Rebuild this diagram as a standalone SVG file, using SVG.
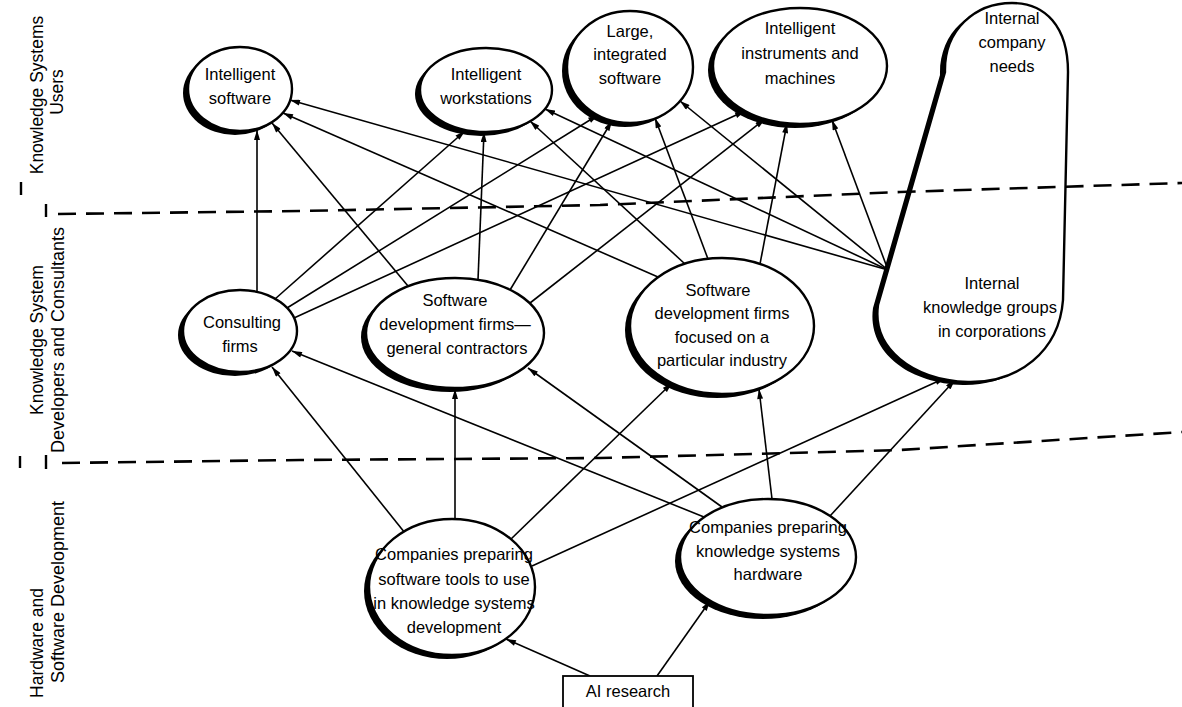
<svg xmlns="http://www.w3.org/2000/svg" width="1182" height="707" viewBox="0 0 1182 707">
<style>
text { font-family: "Liberation Sans", Arial, sans-serif; font-size: 16.5px; text-anchor: middle; fill: #000; }
.lbl { font-size: 17.5px; }
.lbl2 { font-size: 18px; }
.body { fill: #fff; stroke: #000; stroke-width: 2.4; }
.shadow { fill: #000; }
.edge { stroke: #000; stroke-width: 1.6; fill: none; marker-end: url(#arr); }
.dash { stroke: #000; stroke-width: 2.6; stroke-dasharray: 18 10; fill: none; }
.tick { stroke: #000; stroke-width: 2.4; }
</style>
<defs>
<marker id="arr" viewBox="0 0 10 6" refX="10" refY="3" markerWidth="11" markerHeight="6" markerUnits="userSpaceOnUse" orient="auto">
<path d="M0,0 L10,3 L0,6 z" fill="#000"/>
</marker>
</defs>
<rect width="1182" height="707" fill="#fff"/>

<g id="tier-labels">
<text class="lbl" transform="translate(43,95) rotate(-90)">Knowledge Systems</text>
<text class="lbl" transform="translate(63,92) rotate(-90)">Users</text>
<text class="lbl" transform="translate(43,340) rotate(-90)">Knowledge System</text>
<text class="lbl2" transform="translate(64,340) rotate(-90)">Developers and Consultants</text>
<text class="lbl" transform="translate(43,643) rotate(-90)">Hardware and</text>
<text class="lbl2" transform="translate(64,592) rotate(-90)">Software Development</text>
</g>

<g id="connectors">
<!-- into Intelligent software -->
<line class="edge" x1="257" y1="292" x2="257" y2="130"/>
<line class="edge" x1="408" y1="286" x2="272" y2="123"/>
<line class="edge" x1="658" y1="277" x2="283" y2="113"/>
<line class="edge" x1="888" y1="270" x2="290" y2="100"/>
<!-- into Intelligent workstations -->
<line class="edge" x1="275" y1="299" x2="465" y2="131"/>
<line class="edge" x1="478" y1="280" x2="484" y2="132"/>
<line class="edge" x1="685" y1="264" x2="530" y2="121"/>
<line class="edge" x1="888" y1="270" x2="545" y2="109"/>
<!-- into Large, integrated software -->
<line class="edge" x1="287" y1="308" x2="598" y2="115"/>
<line class="edge" x1="510" y1="290" x2="612" y2="121"/>
<line class="edge" x1="708" y1="259" x2="655" y2="118"/>
<line class="edge" x1="888" y1="270" x2="680" y2="101"/>
<!-- into Intelligent instruments and machines -->
<line class="edge" x1="294" y1="318" x2="745" y2="111"/>
<line class="edge" x1="530" y1="303" x2="765" y2="119"/>
<line class="edge" x1="760" y1="264" x2="787" y2="123"/>
<line class="edge" x1="888" y1="270" x2="832" y2="120"/>
<!-- into developers / consultants -->
<line class="edge" x1="405" y1="533" x2="272" y2="367"/>
<line class="edge" x1="704" y1="517" x2="292" y2="351"/>
<line class="edge" x1="455" y1="519" x2="455" y2="389"/>
<line class="edge" x1="722" y1="507" x2="528" y2="368"/>
<line class="edge" x1="510" y1="540" x2="672" y2="383"/>
<line class="edge" x1="772" y1="499" x2="759" y2="389"/>
<line class="edge" x1="532" y1="566" x2="945" y2="378"/>
<line class="edge" x1="830" y1="516" x2="955" y2="380"/>
<!-- from AI research -->
<line class="edge" x1="590" y1="676" x2="506" y2="639"/>
<line class="edge" x1="657" y1="676" x2="710" y2="601"/>
</g>

<g id="intelligent-software">
<ellipse class="shadow" cx="235" cy="93" rx="52" ry="42"/>
<ellipse class="body" cx="240" cy="89" rx="52" ry="42"/>
<text x="240" y="80">Intelligent</text>
<text x="240" y="104">software</text>
</g>

<g id="intelligent-workstations">
<ellipse class="shadow" cx="481" cy="94" rx="66" ry="42"/>
<ellipse class="body" cx="486" cy="90" rx="66" ry="42"/>
<text x="486" y="80">Intelligent</text>
<text x="486" y="104">workstations</text>
</g>

<g id="large-integrated-software">
<ellipse class="shadow" cx="625" cy="71" rx="63" ry="56"/>
<ellipse class="body" cx="630" cy="67" rx="63" ry="56"/>
<text x="630" y="37">Large,</text>
<text x="630" y="60">integrated</text>
<text x="630" y="84">software</text>
</g>

<g id="intelligent-instruments">
<ellipse class="shadow" cx="795" cy="70" rx="87" ry="58"/>
<ellipse class="body" cx="800" cy="66" rx="87" ry="58"/>
<text x="800" y="34">Intelligent</text>
<text x="800" y="59">instruments and</text>
<text x="800" y="84">machines</text>
</g>

<g id="internal-company">
<path class="shadow" transform="translate(-5,3)" d="M945,72 C944,30 975,3 1012,3 C1045,3 1068,26 1068,72 L1063,300 C1059,352 1018,383 968,382 C912,380 872,348 878,305 Z"/>
<path class="body" d="M945,72 C944,30 975,3 1012,3 C1045,3 1068,26 1068,72 L1063,300 C1059,352 1018,383 968,382 C912,380 872,348 878,305 Z"/>
<text x="1012" y="24">Internal</text>
<text x="1012" y="48">company</text>
<text x="1012" y="72">needs</text>
<text x="992" y="289">Internal</text>
<text x="990" y="313">knowledge groups</text>
<text x="992" y="337">in corporations</text>
</g>

<g id="consulting-firms">
<ellipse class="shadow" cx="235" cy="335" rx="57" ry="41"/>
<ellipse class="body" cx="240" cy="331" rx="57" ry="41"/>
<text x="242" y="328">Consulting</text>
<text x="240" y="352">firms</text>
</g>

<g id="general-contractors">
<ellipse class="shadow" cx="450" cy="337" rx="89" ry="55"/>
<ellipse class="body" cx="455" cy="333" rx="89" ry="55"/>
<text x="455" y="306">Software</text>
<text x="455" y="330">development firms—</text>
<text x="457" y="354">general contractors</text>
</g>

<g id="industry-firms">
<ellipse class="shadow" cx="717" cy="330" rx="92" ry="68"/>
<ellipse class="body" cx="722" cy="326" rx="92" ry="68"/>
<text x="718" y="296">Software</text>
<text x="722" y="319">development firms</text>
<text x="722" y="343">focused on a</text>
<text x="722" y="366">particular industry</text>
</g>

<g id="software-tools">
<ellipse class="shadow" cx="447" cy="591" rx="83" ry="68"/>
<ellipse class="body" cx="452" cy="587" rx="83" ry="68"/>
<text x="454" y="560">Companies preparing</text>
<text x="454" y="585">software tools to use</text>
<text x="454" y="609">in knowledge systems</text>
<text x="454" y="633">development</text>
</g>

<g id="hardware">
<ellipse class="shadow" cx="763" cy="561" rx="88" ry="58"/>
<ellipse class="body" cx="768" cy="557" rx="88" ry="58"/>
<text x="768" y="533">Companies preparing</text>
<text x="768" y="557">knowledge systems</text>
<text x="768" y="580">hardware</text>
</g>

<g id="ai-research">
<rect x="563" y="676" width="130" height="40" fill="#fff" stroke="#000" stroke-width="1.8"/>
<text x="628" y="697">AI research</text>
</g>

<g id="tier-dividers">
<path class="dash" d="M58,214 L300,211 L600,205 L900,192 L1182,183"/>
<path class="dash" d="M62,463 L300,460 L600,458 L900,450 L1182,432"/>
<line class="tick" x1="21" y1="182" x2="21" y2="195"/>
<line class="tick" x1="46" y1="204" x2="46" y2="217"/>
<line class="tick" x1="20" y1="456" x2="20" y2="468"/>
<line class="tick" x1="46" y1="455" x2="46" y2="469"/>
</g>
</svg>
